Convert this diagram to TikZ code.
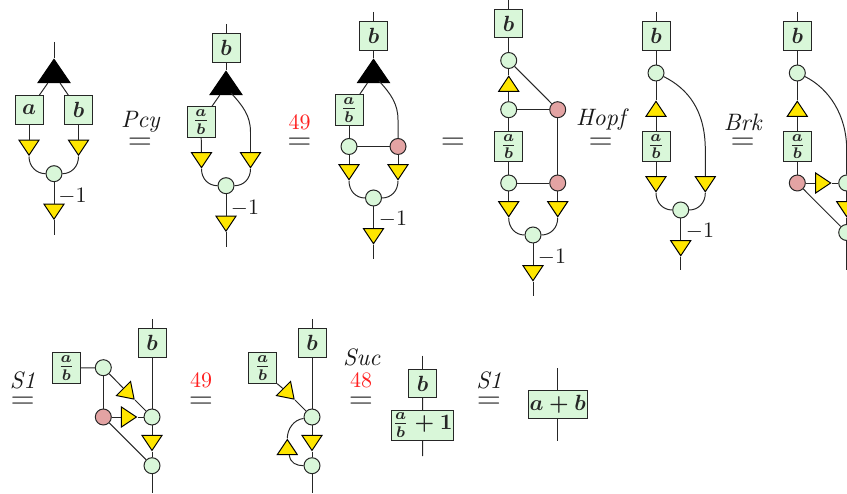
\documentclass[tikz,border=0pt]{standalone}
\usepackage{amsmath}
\usetikzlibrary{shapes.geometric}
\definecolor{gfill}{HTML}{D9F7D9}
\definecolor{rfill}{HTML}{E3A3A3}
\definecolor{yfill}{HTML}{FFE600}
\definecolor{rtxt}{HTML}{FF2020}
\tikzset{
  lw/.style={line width=0.45pt,black!85},
  boxn/.style={draw=black!85,line width=0.45pt,fill=gfill,inner sep=0pt,font=\boldmath,minimum width=12.73pt,minimum height=12.73pt},
  fracbox/.style={boxn,minimum height=13.8pt},
  circ/.style={circle,draw=black!85,line width=0.45pt,fill=gfill,inner sep=0pt,minimum size=7.27pt},
  redc/.style={circ,fill=rfill},
  tri/.style={isosceles triangle,isosceles triangle stretches,shape border rotate=0,draw=black,line width=0.45pt,fill=yfill,inner sep=0pt,minimum width=9.09pt,minimum height=6.82pt,anchor=apex},
  tdown/.style={tri,rotate=-90},
  tup/.style={tri,rotate=90},
  tright/.style={tri,rotate=0},
  tdiag/.style={tri,rotate=-45},
  blk/.style={isosceles triangle,isosceles triangle stretches,shape border rotate=0,draw=black,fill=black,inner sep=0pt,minimum width=14.5pt,minimum height=10.6pt,anchor=apex,rotate=90},
  txt/.style={inner sep=0pt,black!90},
  itx/.style={inner sep=0pt,black!90,font=\fontsize{10.8}{13}\selectfont\itshape},
  eqs/.style={inner sep=0pt,font=\Large},
  red lab/.style={inner sep=0pt,text=rtxt},
}
\begin{document}
\begin{tikzpicture}[x=0.4545pt,y=-0.4545pt,lw]
\useasboundingbox (0,0) rectangle (847,494);
% ---------- 1
\coordinate (a0) at (54,42);
\node[blk] (a1) at (54,58) {};
\node[boxn] (a2) at (29,110) {$a$};
\node[boxn] (a3) at (78.5,110) {$b$};
\node[tdown] (a4) at (29,156.5) {};
\node[tdown] (a5) at (78.5,156.5) {};
\node[circ] (a6) at (54,173.7) {};
\node[tdown] (a7) at (54,220.5) {};
\coordinate (a8) at (54,235);
\node[txt] (a9) at (72.5,196) {$-1$};
\draw (a0) -- (a1.apex);
\draw (a1) -- (a2); \draw (a1) -- (a3);
\draw (a2) -- (a4); \draw (a3) -- (a5);
\draw (a4.apex) .. controls +(0,10) and +(-9,0) .. (a6.west);
\draw (a5.apex) .. controls +(0,10) and +(9,0) .. (a6.east);
\draw (a6) -- (a7); \draw (a7.apex) -- (a8);
% eq 1
\node[itx] (e1l) at (140.5,122) {Pcy};
\node[eqs] (e1) at (140,144) {$=$};
% ---------- 2
\coordinate (b0) at (226,24);
\node[boxn] (b1) at (226,48) {$b$};
\node[blk] (b2) at (226,70) {};
\node[fracbox] (b3) at (201,122) {$\frac{a}{b}$};
\coordinate (b2r) at (231,93);
\node[tdown] (b4) at (201.5,169) {};
\node[tdown] (b5) at (250.5,169) {};
\node[circ] (b6) at (226,185.7) {};
\node[tdown] (b7) at (226,232.5) {};
\coordinate (b8) at (226,247);
\node[txt] (b9) at (245,208) {$-1$};
\draw (b0) -- (b1); \draw (b1) -- (b2.apex);
\draw (b2) -- (b3); \draw (b3) -- (b4);
\draw (b2r) .. controls +(12,13) and +(0,-16) .. (250.5,132) -- (b5);
\draw (b4.apex) .. controls +(0,10) and +(-9,0) .. (b6.west);
\draw (b5.apex) .. controls +(0,10) and +(9,0) .. (b6.east);
\draw (b6) -- (b7); \draw (b7.apex) -- (b8);
% eq 2
\node[red lab] (e2l) at (299.5,122) {49};
\node[eqs] (e2) at (299.5,144) {$=$};
% ---------- 3
\coordinate (c0) at (373.5,12);
\node[boxn] (c1) at (373.5,36) {$b$};
\node[blk] (c2) at (373.5,58) {};
\node[fracbox] (c3) at (349,110) {$\frac{a}{b}$};
\coordinate (c2r) at (379,81);
\node[circ] (c4) at (349,146.5) {};
\node[redc] (c5) at (398,146.5) {};
\node[tdown] (c6) at (349,181) {};
\node[tdown] (c7) at (398,181) {};
\node[circ] (c8) at (373.5,198) {};
\node[tdown] (c9) at (373.5,245) {};
\coordinate (c10) at (373.5,259);
\node[txt] (c11) at (393,219) {$-1$};
\draw (c0) -- (c1); \draw (c1) -- (c2.apex);
\draw (c2) -- (c3); \draw (c3) -- (c4); \draw (c4) -- (c5);
\draw (c2r) .. controls +(12,13) and +(0,-16) .. (398,120) -- (c5);
\draw (c4) -- (c6); \draw (c5) -- (c7);
\draw (c6.apex) .. controls +(0,10) and +(-9,0) .. (c8.west);
\draw (c7.apex) .. controls +(0,10) and +(9,0) .. (c8.east);
\draw (c8) -- (c9); \draw (c9.apex) -- (c10);
% eq 3
\node[eqs] (e3) at (453,144) {$=$};
% ---------- 4
\coordinate (d0) at (508.7,0);
\node[boxn] (d1) at (508.7,23.5) {$b$};
\node[circ] (d2) at (508.7,60.5) {};
\node[tup] (d3) at (508.7,75) {};
\node[circ] (d4) at (508.7,109.7) {};
\node[redc] (d5) at (557.7,109.7) {};
\node[fracbox] (d6) at (508.7,146.5) {$\frac{a}{b}$};
\node[circ] (d7) at (508.7,183) {};
\node[redc] (d8) at (557.7,183) {};
\node[tdown] (d9) at (508.7,218) {};
\node[tdown] (d10) at (557.7,218) {};
\node[circ] (d11) at (533,235) {};
\node[tdown] (d12) at (533,282) {};
\coordinate (d13) at (533,296);
\node[txt] (d14) at (552,257) {$-1$};
\draw (d0) -- (d1); \draw (d1) -- (d2); \draw (d2) -- (d3.apex);
\draw (d3) -- (d4); \draw (d2) -- (d5); \draw (d4) -- (d5);
\draw (d4) -- (d6); \draw (d6) -- (d7); \draw (d7) -- (d8); \draw (d5) -- (d8);
\draw (d7) -- (d9); \draw (d8) -- (d10);
\draw (d9.apex) .. controls +(0,10) and +(-9,0) .. (d11.west);
\draw (d10.apex) .. controls +(0,10) and +(9,0) .. (d11.east);
\draw (d11) -- (d12); \draw (d12.apex) -- (d13);
% eq 4
\node[itx] (e4l) at (600.7,120) {Hopf};
\node[eqs] (e4) at (600.7,144) {$=$};
% ---------- 5
\coordinate (f0) at (656,12);
\node[boxn] (f1) at (656,36) {$b$};
\node[circ] (f2) at (656,73) {};
\node[tup] (f3) at (656,100) {};
\node[fracbox] (f4) at (656,146.5) {$\frac{a}{b}$};
\node[tdown] (f5) at (656,193) {};
\node[tdown] (f6) at (705.3,193) {};
\node[circ] (f7) at (680.7,210) {};
\node[tdown] (f8) at (680.7,257) {};
\coordinate (f9) at (680.7,270);
\node[txt] (f10) at (700,231) {$-1$};
\draw (f0) -- (f1); \draw (f1) -- (f2); \draw (f2) -- (f3.apex);
\draw (f3) -- (f4); \draw (f4) -- (f5);
\draw (f2.-25) .. controls +(24,12) and +(0,-40) .. (705.3,150) -- (f6);
\draw (f5.apex) .. controls +(0,10) and +(-9,0) .. (f7.west);
\draw (f6.apex) .. controls +(0,10) and +(9,0) .. (f7.east);
\draw (f7) -- (f8); \draw (f8.apex) -- (f9);
% eq 5
\node[itx] (e5l) at (742.7,122) {Brk};
\node[eqs] (e5) at (742.7,144) {$=$};
% ---------- 6
\coordinate (g0) at (797.3,12);
\node[boxn] (g1) at (797.3,36) {$b$};
\node[circ] (g2) at (797.3,73) {};
\node[tup] (g3) at (797.3,100) {};
\node[fracbox] (g4) at (797.3,146.5) {$\frac{a}{b}$};
\node[redc] (g5) at (797.3,183) {};
\node[tright] (g6) at (832,183) {};
\node[circ] (g7) at (846.7,183) {};
\node[tdown] (g8) at (846.7,218) {};
\node[circ] (g9) at (846.7,232.5) {};
\coordinate (g10) at (846.7,270);
\draw (g0) -- (g1); \draw (g1) -- (g2); \draw (g2) -- (g3.apex);
\draw (g3) -- (g4); \draw (g4) -- (g5);
\draw (g5) -- (g6); \draw (g6.apex) -- (g7);
\draw (g5) -- (g9); \draw (g7) -- (g8); \draw (g8.apex) -- (g9); \draw (g9) -- (g10);
\draw (g2.-25) .. controls +(24,12) and +(0,-35) .. (846.7,150) -- (g7);
% ========== row 2
\node[itx] (e6l) at (22.7,380) {S1};
\node[eqs] (e6) at (22.7,402.7) {$=$};
% ---------- 7
\coordinate (h0) at (152,319);
\node[boxn] (h1) at (152,343) {$b$};
\node[fracbox] (h2) at (66.3,368) {$\frac{a}{b}$};
\node[circ] (h3) at (103.3,367.7) {};
\node[redc] (h4) at (103.3,417) {};
\node[tdiag] (h5) at (135,400) {};
\node[tright] (h6) at (137.7,417) {};
\node[circ] (h7) at (152,417) {};
\node[tdown] (h8) at (152,451.7) {};
\node[circ] (h9) at (152,465.7) {};
\coordinate (h10) at (152,492.7);
\draw (h0) -- (h1); \draw (h1) -- (h7);
\draw (h2) -- (h3); \draw (h3) -- (h4);
\draw (h3) -- (h5); \draw (h5.apex) -- (h7);
\draw (h4) -- (h6); \draw (h6.apex) -- (h7);
\draw (h4) -- (h9); \draw (h7) -- (h8); \draw (h8.apex) -- (h9); \draw (h9) -- (h10);
% eq 7
\node[red lab] (e7l) at (201,380.5) {49};
\node[eqs] (e7) at (201,402.7) {$=$};
% ---------- 8
\coordinate (k0) at (312,319);
\node[boxn] (k1) at (312,343) {$b$};
\node[fracbox] (k2) at (262.7,368) {$\frac{a}{b}$};
\node[tdiag] (k3) at (295,400) {};
\node[circ] (k4) at (312,417) {};
\node[tup] (k5) at (287.3,438.3) {};
\node[tdown] (k6) at (312,451.7) {};
\node[circ] (k7) at (312,465.7) {};
\coordinate (k8) at (312,492.7);
\draw (k0) -- (k1); \draw (k1) -- (k4);
\draw (k2.south east) -- (k3); \draw (k3.apex) -- (k4);
\draw (k4) -- (k6); \draw (k6.apex) -- (k7); \draw (k7) -- (k8);
\draw (k4.190) .. controls +(-10,1) and +(0,-9) .. (k5.apex);
\draw ([xshift=0.9pt]k5.west) .. controls +(1,8) and +(-7,0) .. (k7.west);
% eq 8
\node[itx] (e8l) at (361.7,357) {Suc};
\node[red lab] (e8r) at (361,380.5) {48};
\node[eqs] (e8) at (361,402.7) {$=$};
% ---------- 9
\coordinate (m0) at (422.7,355.7);
\node[boxn] (m1) at (422.7,383.7) {$b$};
\node[boxn,minimum width=28.3pt,minimum height=13.6pt] (m2) at (422.5,425.3) {$\frac{a}{b}+1$};
\coordinate (m3) at (422.7,456);
\draw (m0) -- (m1); \draw (m1) -- (m2); \draw (m2) -- (m3);
% eq 9
\node[itx] (e9l) at (489,380) {S1};
\node[eqs] (e9) at (489,402.7) {$=$};
% ---------- 10
\coordinate (n0) at (557.7,368.3);
\node[boxn,minimum width=26.8pt,minimum height=12.9pt] (n1) at (557.7,404.5) {$a+b$};
\coordinate (n2) at (557.7,441);
\draw (n0) -- (n1); \draw (n1) -- (n2);
\end{tikzpicture}
\end{document}
